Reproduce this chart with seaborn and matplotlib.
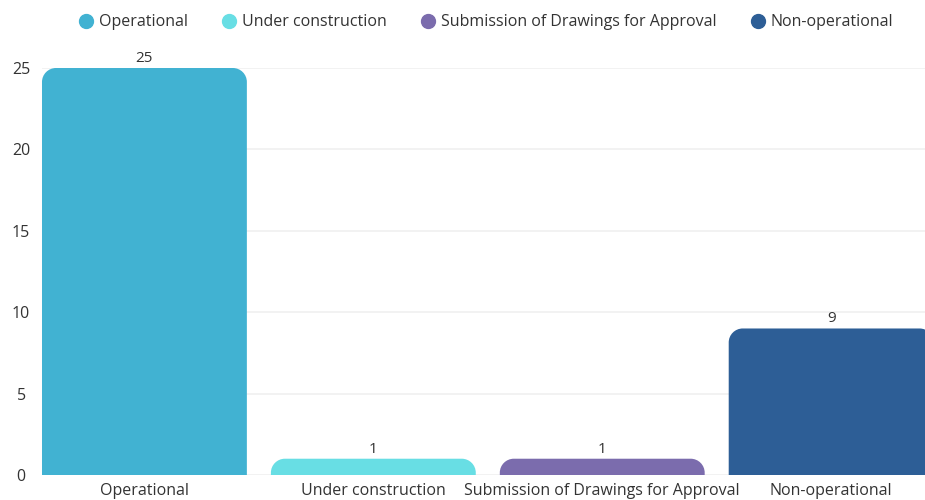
import matplotlib
matplotlib.use("Agg")
import matplotlib.pyplot as plt
import seaborn as sns
import pandas as pd
import numpy as np
from matplotlib.path import Path
from matplotlib.patches import PathPatch
from matplotlib.lines import Line2D

# Project status counts
categories = ["Operational", "Under construction",
              "Submission of Drawings for Approval", "Non-operational"]
counts = [25, 1, 1, 9]
colors = ["#41B2D2", "#68DEE4", "#7B6CAD", "#2D5E96"]
yticks = [0, 5, 10, 15, 20, 25]

sns.set_theme(style="white")
plt.rcParams["font.family"] = ["Open Sans", "DejaVu Sans"]
text_color = "#333333"
fs = 11.5

df = pd.DataFrame({"status": categories, "count": counts})

fig = plt.figure(figsize=(9.25, 5), dpi=100)
ax = fig.add_axes([0.0454, 0.05, 0.9546, 0.814])

sns.barplot(data=df, x="status", y="count", hue="status",
            palette=colors, order=categories, hue_order=categories,
            width=0.895, legend=False, ax=ax, saturation=1)

ax.set_xlim(-0.4475, 3.41)
ax.set_ylim(0, 25)
ax.set_yticks(yticks)
ax.set_yticklabels([str(t) for t in yticks])
ax.set_xlabel("")
ax.set_ylabel("")
for s in ax.spines.values():
    s.set_visible(False)
ax.yaxis.grid(True, color="#f0f0f0", linewidth=1.2)
ax.set_axisbelow(True)
ax.tick_params(axis="y", length=0, pad=15, labelsize=fs, labelcolor=text_color)
ax.tick_params(axis="x", length=0, pad=6, labelsize=fs, labelcolor=text_color)
for lbl in ax.get_yticklabels():
    lbl.set_horizontalalignment("center")

fig.canvas.draw()

# Replace each bar with a version that has rounded top corners
radius = 14.0
for patch, val in zip(list(ax.patches), counts):
    x0, y0 = patch.get_x(), patch.get_y()
    w, h = patch.get_width(), patch.get_height()
    (px0, py0) = ax.transData.transform((x0, y0))
    (px1, py1) = ax.transData.transform((x0 + w, y0 + h))
    r = min(radius, py1 - py0, (px1 - px0) / 2)
    k = 0.5523
    verts = [
        (px0, py0),
        (px0, py1 - r),
        (px0, py1 - r + k * r), (px0 + r - k * r, py1), (px0 + r, py1),
        (px1 - r, py1),
        (px1 - r + k * r, py1), (px1, py1 - r + k * r), (px1, py1 - r),
        (px1, py0),
        (px0, py0),
    ]
    codes = [Path.MOVETO, Path.LINETO,
             Path.CURVE4, Path.CURVE4, Path.CURVE4,
             Path.LINETO,
             Path.CURVE4, Path.CURVE4, Path.CURVE4,
             Path.LINETO, Path.CLOSEPOLY]
    rounded = PathPatch(Path(verts, codes), facecolor=patch.get_facecolor(),
                        edgecolor="none", transform=None, zorder=2)
    fig.add_artist(rounded)
    patch.set_visible(False)
    ax.annotate(str(val), xy=(x0 + w / 2, val), xytext=(0, 1.5),
                textcoords="offset points", ha="center", va="bottom",
                fontsize=fs - 0.5, color=text_color, annotation_clip=False)

handles = [Line2D([0], [0], marker="o", linestyle="", markersize=10,
                  markerfacecolor=c, markeredgecolor=c) for c in colors]
fig.legend(handles, categories, loc="upper center", bbox_to_anchor=(0.525, 1.0),
           ncol=4, frameon=False, fontsize=fs, handlelength=1.0,
           handletextpad=0.3, columnspacing=2.1, labelcolor=text_color)

fig.savefig("out.png", dpi=100)
